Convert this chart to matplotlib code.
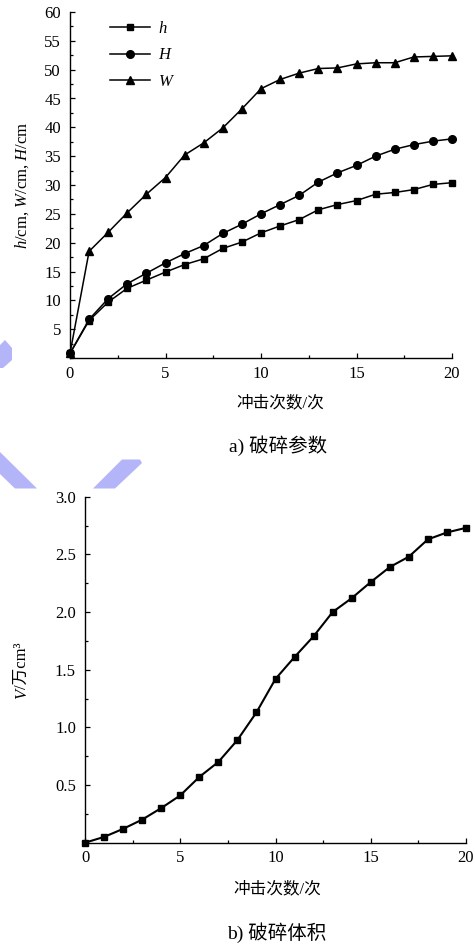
import matplotlib
matplotlib.use('Agg')
import matplotlib.pyplot as plt
from matplotlib.patches import Polygon
from matplotlib.ticker import MultipleLocator

# ---------------- data ----------------
impacts = list(range(0, 21))
h_vals = [0.8, 6.5, 9.7, 12.1, 13.5, 14.9, 16.2, 17.2, 19.0, 20.1, 21.7,
          22.9, 24.0, 25.7, 26.6, 27.3, 28.4, 28.7, 29.2, 30.1, 30.4]
H_vals = [0.8, 6.7, 10.3, 12.9, 14.7, 16.5, 18.1, 19.5, 21.6, 23.2, 25.0,
          26.6, 28.2, 30.5, 32.1, 33.4, 35.0, 36.2, 37.0, 37.6, 38.0]
W_vals = [0.8, 18.5, 21.8, 25.2, 28.4, 31.3, 35.2, 37.3, 39.9, 43.2, 46.7,
          48.3, 49.4, 50.2, 50.3, 51.0, 51.2, 51.2, 52.2, 52.3, 52.4]
V_vals = [0.0, 0.05, 0.12, 0.20, 0.30, 0.41, 0.57, 0.70, 0.89, 1.13, 1.42,
          1.61, 1.79, 2.00, 2.12, 2.26, 2.39, 2.48, 2.63, 2.69, 2.73]

x_ticks = [0, 5, 10, 15, 20]
top_yticks = list(range(5, 61, 5))
bot_yticks = [0.5, 1.0, 1.5, 2.0, 2.5, 3.0]

xlabel_txt = '冲击次数/次'
cap_a = 'a) 破碎参数'
cap_b = 'b) 破碎体积'

# ---------------- style ----------------
plt.rcParams['font.family'] = ['Liberation Serif', 'Noto Sans CJK SC']
plt.rcParams['mathtext.fontset'] = 'custom'
plt.rcParams['mathtext.rm'] = 'Liberation Serif'
plt.rcParams['mathtext.it'] = 'Liberation Serif:italic'
plt.rcParams['font.size'] = 12

W_PX, H_PX = 475, 946
fig = plt.figure(figsize=(W_PX / 100, H_PX / 100), dpi=100)
fig.patch.set_facecolor('white')


def fx(px):
    return px / W_PX


def fy(py):
    return 1 - py / H_PX


# watermark shapes (decoration)
bg = fig.add_axes([0, 0, 1, 1], zorder=-1)
bg.set_xlim(0, W_PX)
bg.set_ylim(H_PX, 0)
bg.axis('off')
wm_color = '#b4b4f8'
for poly in [
    [(0, 345), (5, 340), (12, 348), (12, 360), (3, 368), (0, 368)],
    [(0, 452), (37, 488.5), (15, 488.5), (0, 474)],
    [(122, 459.5), (140, 459.5), (142, 463), (115, 488.5), (93, 488.5)],
]:
    bg.add_patch(Polygon(poly, closed=True, facecolor=wm_color, edgecolor='none'))


def style_axes(ax):
    for s in ['top', 'right']:
        ax.spines[s].set_visible(False)
    for s in ['left', 'bottom']:
        ax.spines[s].set_linewidth(1.0)
    ax.tick_params(which='both', direction='in', width=0.9, labelsize=12)
    ax.tick_params(which='major', length=3.5)
    ax.tick_params(which='minor', length=2.2)
    ax.tick_params(axis='x', which='major', pad=5.5)
    ax.tick_params(axis='y', which='major', pad=6.5)
    ax.patch.set_alpha(0)


lw = 1.1
# ---------------- top chart ----------------
ax1 = fig.add_axes([fx(70), fy(358), fx(452) - fx(70), fy(12) - fy(358)])
ax1.plot(impacts, h_vals, color='black', lw=lw, marker='s', ms=5, label='$h$', clip_on=False)
ax1.plot(impacts, H_vals, color='black', lw=lw, marker='o', ms=5.5, label='$H$', clip_on=False)
ax1.plot(impacts, W_vals, color='black', lw=lw, marker='^', ms=6, label='$W$', clip_on=False)
ax1.set_xlim(0, 20)
ax1.set_ylim(0, 60)
ax1.set_xticks(x_ticks)
ax1.set_yticks(top_yticks)
ax1.xaxis.set_minor_locator(MultipleLocator(2.5))
ax1.yaxis.set_minor_locator(MultipleLocator(2.5))
style_axes(ax1)
ax1.legend(loc='upper left', bbox_to_anchor=(0.105, 0.975), frameon=False,
           borderpad=0, borderaxespad=0, handlelength=2.4, handletextpad=0.48,
           labelspacing=0.65, fontsize=12)

fig.text(fx(22), fy(185), '$h$/cm, $W$/cm, $H$/cm', rotation=90,
         ha='center', va='center', fontsize=12)
fig.text(fx(280), fy(403), xlabel_txt, ha='center', va='center', fontsize=12)
fig.text(fx(278), fy(446), cap_a, ha='center', va='center', fontsize=14)

# ---------------- bottom chart ----------------
ax2 = fig.add_axes([fx(85), fy(842.7), fx(466) - fx(85), fy(496.7) - fy(842.7)])
ax2.plot(impacts, V_vals, color='black', lw=1.5, marker='s', ms=5, clip_on=False)
ax2.set_xlim(0, 20)
ax2.set_ylim(0, 3.0)
ax2.set_xticks(x_ticks)
ax2.set_yticks(bot_yticks)
ax2.set_yticklabels([f'{v:.1f}' for v in bot_yticks])
ax2.xaxis.set_minor_locator(MultipleLocator(2.5))
ax2.yaxis.set_minor_locator(MultipleLocator(0.25))
style_axes(ax2)

fig.text(fx(277), fy(889), xlabel_txt, ha='center', va='center', fontsize=12)
fig.text(fx(277), fy(933), cap_b, ha='center', va='center', fontsize=14)

# rotated y label "V/万cm³" built from pieces (italic V)
renderer = fig.canvas.get_renderer()
pieces = [('V', 'italic'), ('/万cm³', 'normal')]
texts = []
total = 0
for s, st in pieces:
    t = fig.text(0, 0, s, rotation=90, ha='center', va='bottom', fontsize=12, fontstyle=st)
    ext = t.get_window_extent(renderer)
    texts.append((t, ext.height))
    total += ext.height
cur = (H_PX - 671) - total / 2
for t, hgt in texts:
    t.set_position((fx(22), cur / H_PX))
    cur += hgt

fig.savefig('out.png', dpi=100)
